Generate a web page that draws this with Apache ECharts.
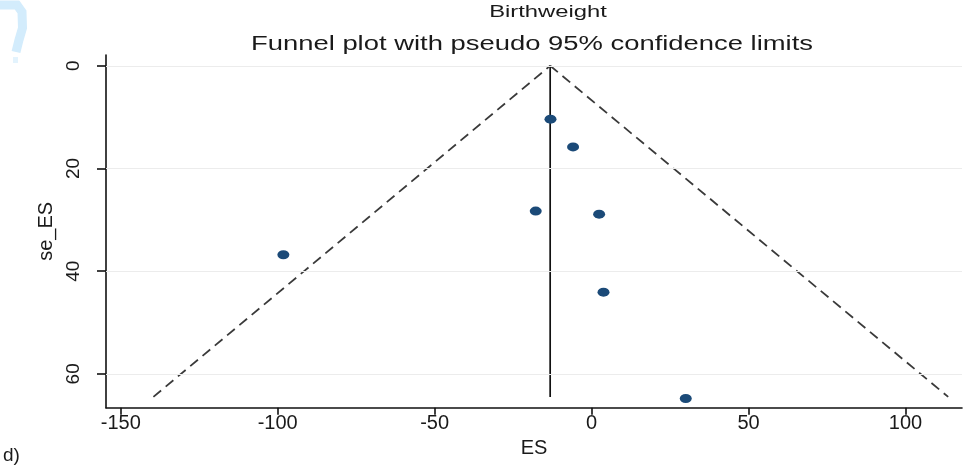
<!DOCTYPE html>
<html>
<head>
<meta charset="utf-8">
<script src="https://cdn.jsdelivr.net/npm/echarts@6/dist/echarts.min.js"></script>
<style>
html,body{margin:0;padding:0;background:#fff;}
#chart{width:963px;height:467px;}
</style>
</head>
<body>
<div id="chart"></div>
<script>
// ---- data ----
const esValues = [-13.1, -5.9, -17.8, 2.4, -98.2, 3.8, 30.0];
const seValues = [10.4, 15.8, 28.3, 28.9, 36.8, 44.1, 64.8];
const pooledES = -13.2;
const funnelApex = [-13.2, 0];
const funnelLeftEnd = [-139.6, 64.5];
const funnelRightEnd = [113.6, 64.5];
const xTicks = [-150, -100, -50, 0, 50, 100];
const yTicks = [0, 20, 40, 60];
const xRange = [-154.7, 118];
const yRange = [-2.1, 66.6];

const points = esValues.map((v, i) => [v, seValues[i]]);
const font = '"Liberation Sans", Arial, sans-serif';

const chart = echarts.init(document.getElementById('chart'), null, {renderer: 'canvas'});
chart.setOption({
  animation: false,
  backgroundColor: '#ffffff',
  grid: {left: 106, right: 1, top: 55, bottom: 59.3, containLabel: false},
  xAxis: {
    type: 'value',
    min: xRange[0], max: xRange[1],
    name: 'ES', nameLocation: 'middle', nameGap: 25,
    nameTextStyle: {fontFamily: font, fontSize: 20, color: '#1a1a1a'},
    axisLine: {show: true, onZero: false, lineStyle: {color: '#111', width: 1.6}},
    axisTick: {show: true, length: 7, customValues: xTicks, lineStyle: {color: '#111', width: 1.6}},
    axisLabel: {customValues: xTicks, margin: 6, fontFamily: font, fontSize: 20, color: '#1a1a1a'},
    splitLine: {show: false}
  },
  yAxis: {
    type: 'value',
    inverse: true,
    min: yRange[0], max: yRange[1],
    name: 'se_ES', nameLocation: 'middle', nameGap: 49, nameRotate: 90,
    nameTextStyle: {fontFamily: font, fontSize: 20, color: '#1a1a1a'},
    axisLine: {show: true, onZero: false, lineStyle: {color: '#111', width: 1.6}},
    axisTick: {show: true, length: 9, customValues: yTicks, lineStyle: {color: '#111', width: 1.6}},
    axisLabel: {customValues: yTicks, rotate: 90, margin: 23, fontFamily: font, fontSize: 19, color: '#1a1a1a'},
    splitLine: {show: false}
  },
  graphic: [
    {type: 'text', x: 548, y: 12, scaleX: 1.4, style: {text: 'Birthweight', x: 0, y: 0, align: 'center', verticalAlign: 'middle', font: '17px ' + font, fill: '#1a1a1a'}},
    {type: 'text', x: 532, y: 44, scaleX: 1.37, style: {text: 'Funnel plot with pseudo 95% confidence limits', x: 0, y: 0, align: 'center', verticalAlign: 'middle', font: '20px ' + font, fill: '#1a1a1a'}},
    {type: 'text', x: 3, y: 456, style: {text: 'd)', x: 0, y: 0, align: 'left', verticalAlign: 'middle', font: '19px ' + font, fill: '#1a1a1a'}},
    {type: 'polyline', shape: {points: [[0, 5], [17, 5], [22, 12], [22.5, 28], [19, 40], [16, 52]]}, style: {stroke: '#d3ecfc', lineWidth: 9, fill: null}},
    {type: 'rect', shape: {x: 13, y: 57, width: 5, height: 6}, style: {fill: '#e3f3fd'}}
  ],
  series: [
    {
      type: 'line', name: 'grid', data: [], silent: true,
      markLine: {
        silent: true, symbol: 'none', label: {show: false},
        lineStyle: {color: '#ececec', width: 1, type: 'solid'},
        data: yTicks.map(v => ({yAxis: v}))
      }
    },
    {
      type: 'line', name: 'lower limit', data: [funnelLeftEnd, funnelApex],
      symbol: 'none', silent: true,
      lineStyle: {color: '#3a3a3a', width: 1.8, type: [10, 6]}
    },
    {
      type: 'line', name: 'upper limit', data: [funnelApex, funnelRightEnd],
      symbol: 'none', silent: true,
      lineStyle: {color: '#3a3a3a', width: 1.8, type: [10, 6]}
    },
    {
      type: 'line', name: 'pooled', data: [[pooledES, funnelApex[1]], [pooledES, funnelLeftEnd[1]]],
      symbol: 'none', silent: true,
      lineStyle: {color: '#111', width: 1.7, type: 'solid'}
    },
    {
      type: 'scatter', name: 'studies', data: points,
      symbol: 'circle', symbolSize: [12, 9], z: 5,
      itemStyle: {color: '#1b4a78', opacity: 1}
    }
  ]
});
</script>
</body>
</html>
